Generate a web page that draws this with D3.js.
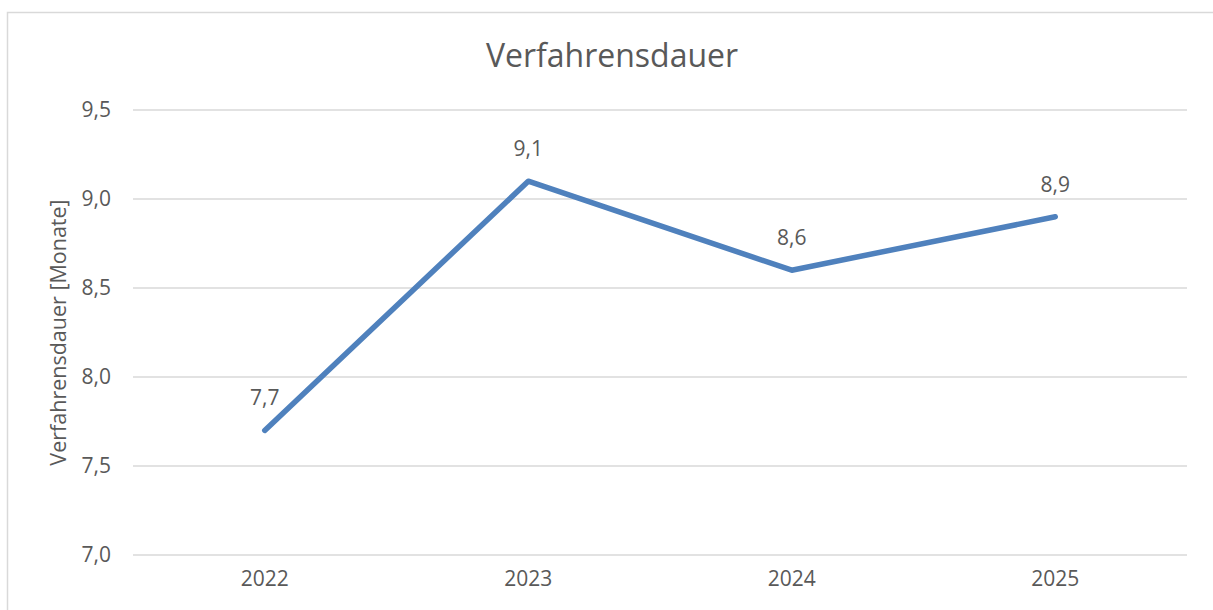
<!DOCTYPE html>
<html>
<head>
<meta charset="utf-8">
<script src="https://cdn.jsdelivr.net/npm/d3@7"></script>
<style>
  body { margin: 0; background: #fff; }
  text { font-family: "Open Sans", Calibri, sans-serif; fill: #595959; }
</style>
</head>
<body>
<div id="chart"></div>
<script>
const years = ['2022', '2023', '2024', '2025'];
const dauer = [7.7, 9.1, 8.6, 8.9];
const yTicks = [7.0, 7.5, 8.0, 8.5, 9.0, 9.5];

const width = 1213, height = 610;
const margin = { top: 110, right: 26, bottom: 55, left: 133 };

const svg = d3.select('#chart').append('svg')
    .attr('width', width)
    .attr('height', height);

// chart frame
svg.append('rect')
    .attr('x', 7.5).attr('y', 12.5)
    .attr('width', 1230).attr('height', 620)
    .attr('fill', 'none')
    .attr('stroke', '#d9d9d9')
    .attr('stroke-width', 1.5);

const x = d3.scaleBand()
    .domain(years)
    .range([margin.left, width - margin.right]);

const y = d3.scaleLinear()
    .domain([7.0, 9.5])
    .range([height - margin.bottom, margin.top]);

const fmt = v => d3.format('.1f')(v).replace('.', ',');

// gridlines
svg.append('g')
    .selectAll('line')
    .data(yTicks)
    .enter().append('line')
    .attr('x1', margin.left)
    .attr('x2', width - margin.right)
    .attr('y1', d => y(d))
    .attr('y2', d => y(d))
    .attr('stroke', '#d9d9d9')
    .attr('stroke-width', 1.5);

// y axis labels
const yAxis = svg.append('g')
    .attr('transform', `translate(${margin.left}, 0)`)
    .call(d3.axisLeft(y).tickValues(yTicks).tickFormat(fmt).tickSize(0).tickPadding(22));
yAxis.select('.domain').remove();
yAxis.selectAll('text').style('font-size', '21px').attr('fill', '#595959');

// x axis labels
const xAxis = svg.append('g')
    .attr('transform', `translate(0, ${height - margin.bottom})`)
    .call(d3.axisBottom(x).tickSize(0).tickPadding(16));
xAxis.select('.domain').remove();
xAxis.selectAll('text').style('font-size', '21px').attr('fill', '#595959');

// line
const line = d3.line()
    .x((d, i) => x(years[i]) + x.bandwidth() / 2)
    .y(d => y(d));

svg.append('path')
    .datum(dauer)
    .attr('d', line)
    .attr('fill', 'none')
    .attr('stroke', '#4f81bd')
    .attr('stroke-width', 5.5)
    .attr('stroke-linecap', 'round')
    .attr('stroke-linejoin', 'round');

// data labels
svg.selectAll('.label')
    .data(dauer)
    .enter().append('text')
    .attr('class', 'label')
    .attr('x', (d, i) => x(years[i]) + x.bandwidth() / 2)
    .attr('y', d => y(d) - 25)
    .attr('text-anchor', 'middle')
    .style('font-size', '21px')
    .text(fmt);

// title
svg.append('text')
    .attr('x', 612)
    .attr('y', 67)
    .attr('text-anchor', 'middle')
    .style('font-size', '32px')
    .text('Verfahrensdauer');

// y axis title
svg.append('text')
    .attr('transform', `translate(66, ${(y(7.0) + y(9.5)) / 2}) rotate(-90)`)
    .attr('text-anchor', 'middle')
    .style('font-size', '21.5px')
    .text('Verfahrensdauer [Monate]');
</script>
</body>
</html>
